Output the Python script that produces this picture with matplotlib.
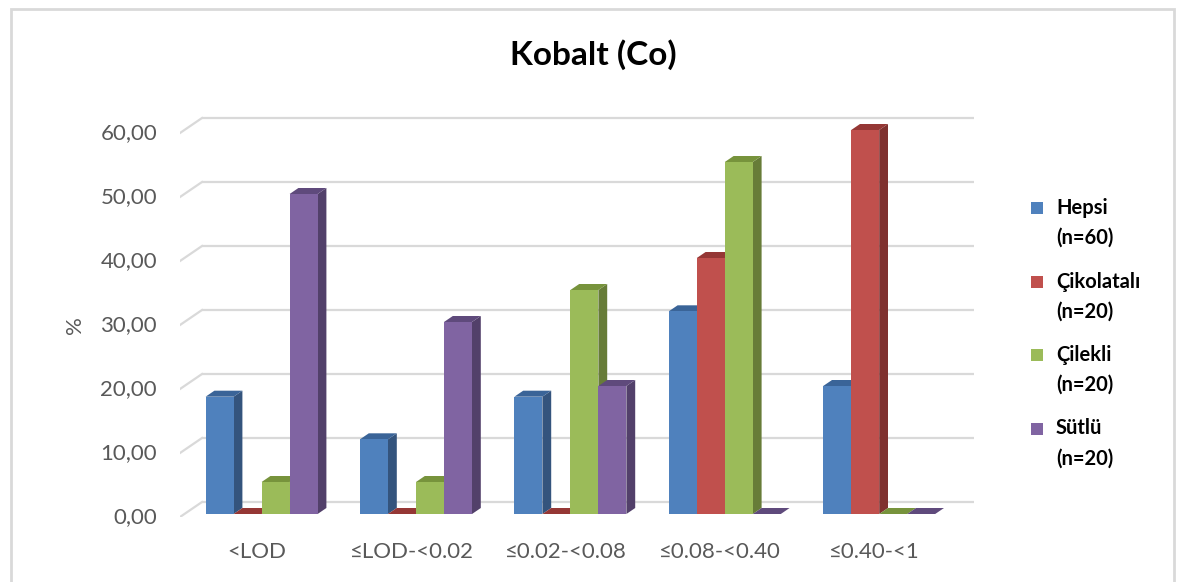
import matplotlib
matplotlib.use("Agg")
import matplotlib.pyplot as plt
from matplotlib.patches import Polygon, Rectangle

categories = ["<LOD", "≤LOD-<0.02", "≤0.02-<0.08", "≤0.08-<0.40", "≤0.40-<1"]
series = ["Hepsi\n(n=60)", "Çikolatalı\n(n=20)", "Çilekli\n(n=20)", "Sütlü\n(n=20)"]
hepsi = [18.33, 11.67, 18.33, 31.67, 20.00]
cikolatali = [0.00, 0.00, 0.00, 40.00, 60.00]
cilekli = [5.00, 5.00, 35.00, 55.00, 0.00]
sutlu = [50.00, 30.00, 20.00, 0.00, 0.00]
yticks = [0, 10, 20, 30, 40, 50, 60]

values = [hepsi, cikolatali, cilekli, sutlu]
# front, side, top shades for each series
shades = [
    ("#4F81BD", "#34547D", "#3A6498"),
    ("#C0504D", "#7F312F", "#953735"),
    ("#9BBB59", "#677C38", "#77933C"),
    ("#8064A2", "#52406A", "#5F4A7C"),
]

plt.rcParams["font.family"] = ["Lato", "DejaVu Sans"]

W, H = 1179, 582
fig = plt.figure(figsize=(W / 100, H / 100), dpi=100)

# outer chart border, bottom edge runs past the canvas
fig.patches.append(Rectangle((11 / W, -10 / H), 1163 / W, (H - 9 + 10) / H, transform=fig.transFigure,
                             fill=False, edgecolor="#D9D9D9", lw=2))

# axes covers the front plane plus the depth of the back wall
left, right, top, bottom = 180, 975, 116, 517
ax = fig.add_axes([left / W, (H - bottom) / H, (right - left) / W, (bottom - top) / H])
px_x = 154.4          # pixels per category
px_y = 6.4            # pixels per percent
DX = 22 / px_x        # full depth shift in data units
DY = 15 / px_y
ax.set_xlim(0, (right - left) / px_x)
ax.set_ylim(0, (bottom - top) / px_y)
ax.axis("off")

# back wall gridlines and the left wall stubs
for t in yticks:
    ax.plot([DX, len(categories) + DX], [t + DY, t + DY], color="#D9D9D9", lw=1.6,
            solid_capstyle="butt", zorder=1)
    ax.plot([0, DX], [t, t + DY], color="#D9D9D9", lw=1.6, zorder=1)
    ax.text(-23 / px_x, t, f"{t:.2f}".replace(".", ","), ha="right", va="center",
            fontsize=16, color="#595959", clip_on=False)

ax.text(-105 / px_x, 30, "%", rotation=90, ha="center", va="center", fontsize=16,
        color="#595959", clip_on=False)

bw = 28 / px_x
gw = bw * len(series)
d0, d1 = 0.2, 0.6
z = 2
for i, cat in enumerate(categories):
    x0 = i + 0.5 - gw / 2
    for j, vals in enumerate(values):
        v = vals[i]
        front, side, topc = shades[j]
        xl = x0 + j * bw + d0 * DX
        xr = xl + bw
        yb = d0 * DY
        ox, oy = (d1 - d0) * DX, (d1 - d0) * DY
        ax.add_patch(Polygon([(xr, yb), (xr + ox, yb + oy), (xr + ox, yb + oy + v), (xr, yb + v)],
                             closed=True, facecolor=side, edgecolor="none", zorder=z))
        ax.add_patch(Polygon([(xl, yb + v), (xr, yb + v), (xr + ox, yb + v + oy), (xl + ox, yb + v + oy)],
                             closed=True, facecolor=topc, edgecolor="none", zorder=z))
        if v > 0:
            ax.add_patch(Rectangle((xl, yb), bw, v, facecolor=front, edgecolor="none", zorder=z + 1))
        z += 2
    ax.text(i + 0.5, -35 / px_y, cat, ha="center", va="center", fontsize=16,
            color="#595959", clip_on=False)

fig.text(593 / W, 1 - 55 / H, "Kobalt (Co)", ha="center", va="center", fontsize=24,
         fontweight="bold", color="black")

# legend, square beside the first line of each entry
for j, name in enumerate(series):
    yc = 208 + j * 73.5
    fig.patches.append(Rectangle((1031 / W, 1 - (yc + 6) / H), 12 / W, 12 / H,
                                 transform=fig.transFigure, facecolor=shades[j][0],
                                 edgecolor="none"))
    first, second = name.split("\n")
    fig.text(1056 / W, 1 - yc / H, first, ha="left", va="center", fontsize=14.5,
             fontweight="bold", color="black")
    fig.text(1056 / W, 1 - (yc + 30) / H, second, ha="left", va="center", fontsize=14.5,
             fontweight="bold", color="black")

fig.savefig("out.png", dpi=100)
